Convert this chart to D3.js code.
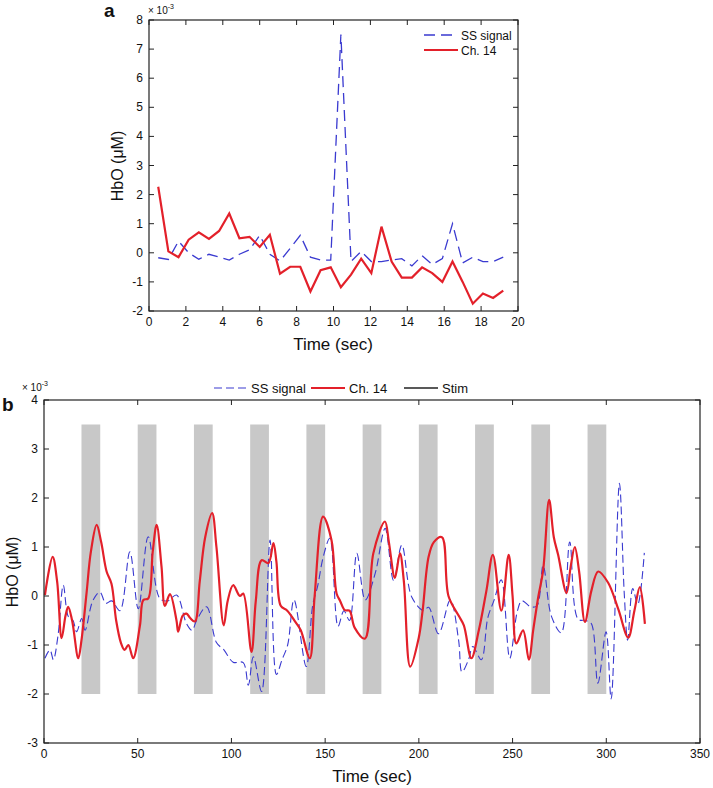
<!DOCTYPE html>
<html><head><meta charset="utf-8">
<script src="https://cdn.jsdelivr.net/npm/d3@7"></script>
<style>
body{margin:0;background:#fff;}
text{font-family:"Liberation Sans",Arial,sans-serif;fill:#111;}
</style></head>
<body><svg id="c" width="713" height="788"></svg>
<script>
// ---------- Panel a data ----------
const aTime = [0.5,1.05,1.6,2.15,2.7,3.25,3.8,4.35,4.9,5.45,6.0,6.55,7.1,7.65,8.2,8.75,9.3,9.85,10.4,10.95,11.5,12.05,12.6,13.15,13.7,14.25,14.8,15.35,15.9,16.45,17.0,17.55,18.1,18.65,19.2];
const aSS = [-0.17,-0.23,0.4,0.0,-0.22,-0.05,-0.15,-0.25,-0.05,0.1,0.6,-0.05,-0.28,0.15,0.6,-0.15,-0.25,-0.25,7.5,-0.3,0.05,-0.3,-0.3,-0.25,-0.2,-0.45,-0.1,-0.4,-0.2,1.0,-0.35,-0.15,-0.3,-0.3,-0.15];
const aCh14 = [2.27,0.05,-0.15,0.45,0.7,0.48,0.75,1.35,0.5,0.55,0.2,0.62,-0.72,-0.48,-0.48,-1.33,-0.6,-0.5,-1.18,-0.75,-0.2,-0.7,0.9,-0.3,-0.85,-0.85,-0.5,-0.7,-1.0,-0.3,-1.0,-1.75,-1.4,-1.55,-1.3];
const aXTicks = [0,2,4,6,8,10,12,14,16,18,20];
const aYTicks = [-2,-1,0,1,2,3,4,5,6,7,8];

// ---------- Panel b data ----------
const bCh14T = [0.5,4.6,7,9.4,11.5,12.9,15,18.3,20,22.7,25,28.1,30.5,33.4,36,38.5,41,43,45,47.6,51.2,53,55.6,58,60.1,62.7,64.5,67.2,70.7,71.6,74,76,78,80.5,83.1,86,89.7,92,95.9,98,100.9,104.5,106.3,110.7,113,116.1,119.7,122.4,124,126.3,129.8,134.3,137,141.8,144.4,148.9,153.4,156.1,158,160.5,163,165.8,171.2,175.7,181.9,184,187.2,189.9,192,195.4,199.9,202,205.2,208,212.3,215.8,221.2,224,228,232,236,239.5,244,247.9,250,252,255.6,258.7,261,263.7,266.3,269.5,272,274.3,278.8,281,283.2,285.5,288.6,292,295.7,301,306.4,311.7,315,317.9,320.6];
const bCh14V = [0.02,0.8,0.3,-0.86,-0.4,-0.22,-0.5,-1.27,-0.9,0.06,0.9,1.45,1.1,0.5,0.25,-0.5,-0.95,-1.1,-1.0,-1.27,-0.6,-0.08,-0.05,0.9,1.45,0.6,-0.2,0.04,-0.5,-0.73,-0.4,-0.36,-0.45,-0.52,0.3,1.2,1.69,1.0,-0.6,-0.1,0.22,0.0,0.05,-1.14,-0.1,0.73,0.67,1.08,0.7,-0.2,-0.3,-0.54,-0.7,-1.27,0.0,1.62,1.14,0.05,-0.1,-0.29,-0.3,-0.65,-0.87,0.87,1.52,1.1,0.37,0.87,0.3,-1.44,-0.86,-0.3,0.8,1.1,1.2,0.0,-0.4,-0.6,-1.27,-0.7,0.1,0.84,-0.3,0.84,0.0,-0.97,-0.7,-1.3,-0.7,-0.02,0.52,1.96,1.2,0.84,0.06,0.6,1.0,0.5,-0.53,0.1,0.5,0.27,-0.27,-0.85,-0.3,0.18,-0.57];
const bSST = [0.5,3.2,5,7.5,10.3,13,15.5,17.4,20.1,21.9,26,29.8,33,36.1,40.5,45.8,50.3,55.6,61.8,66,70.7,76,79,81.4,86.7,92,96,100.9,106.3,109,111.7,116.1,120.6,124,127,130,133.4,139.9,143.4,146,149,152.5,156.9,160,163,166.9,171.4,176.7,182,186.5,190.9,196.2,202.5,205.2,210.5,216.8,221.2,223,226.5,228.8,233.3,236.8,240,244,248.5,252.6,255,259.7,263,266.3,270.7,276,280.5,284.9,289,292,295.5,299.9,302.6,307,309.6,311.4,314.1,316.8,320.3];
const bSSV = [-1.27,-1.1,-1.3,-0.8,0.22,-0.42,-0.5,-0.73,-0.46,-0.7,-0.1,0.08,-0.15,-0.1,-0.3,0.9,-0.26,1.21,-0.05,-0.1,0.02,-0.56,-0.7,-0.5,-0.22,-0.95,-1.1,-1.35,-1.36,-1.82,-1.24,-1.95,1.14,-1.6,-1.3,-1.0,-0.08,-1.44,-0.18,0.2,0.8,1.18,-0.62,-0.3,-0.5,0.87,-0.08,0.46,1.38,0.32,1.04,-0.02,-0.3,-0.23,-0.77,-0.08,-0.9,-1.55,-1.3,-1.03,-1.3,-0.44,-0.1,0.33,-1.27,-0.3,-0.1,-0.22,-0.2,0.62,-0.41,-0.75,1.1,-0.47,-0.5,-0.56,-1.78,-0.73,-2.1,2.3,0.04,-0.9,0.15,-0.17,0.88];
const stimStart = [20,50,80,110,140,170,200,230,260,290];
const stimDur = 10;
const stimLow = -2, stimHigh = 3.5;
const bXTicks = [0,50,100,150,200,250,300,350];
const bYTicks = [-3,-2,-1,0,1,2,3,4];

const legendA = ["SS signal","Ch. 14"];
const legendB = ["SS signal","Ch. 14","Stim"];
const BLUE = "#3a3ad0", RED = "#e3202a", GRAY = "#c8c8c8";

const svg = d3.select("#c");
svg.append("rect").attr("width",713).attr("height",788).attr("fill","#fff");

function drawFrame(g, x, y, xt, yt) {
  const [x0,x1] = x.range(), [y0,y1] = y.range();
  const tl = 5;
  xt.forEach(v => {
    const px = x(v);
    g.append("line").attr("x1",px).attr("x2",px).attr("y1",y0).attr("y2",y0-tl).attr("stroke","#222");
    g.append("line").attr("x1",px).attr("x2",px).attr("y1",y1).attr("y2",y1+tl).attr("stroke","#222");
  });
  yt.forEach(v => {
    const py = y(v);
    g.append("line").attr("x1",x0).attr("x2",x0+tl).attr("y1",py).attr("y2",py).attr("stroke","#222");
    g.append("line").attr("x1",x1).attr("x2",x1-tl).attr("y1",py).attr("y2",py).attr("stroke","#222");
  });
  g.append("rect").attr("x",x0).attr("y",y1).attr("width",x1-x0).attr("height",y0-y1)
    .attr("fill","none").attr("stroke","#222").attr("stroke-width",1.2);
  xt.forEach(v => g.append("text").attr("x",x(v)).attr("y",y0+15).attr("text-anchor","middle")
    .attr("font-size",12).text(v));
  yt.forEach(v => g.append("text").attr("x",x0-6).attr("y",y(v)+4).attr("text-anchor","end")
    .attr("font-size",12).text(v));
}

// ---------- Panel a ----------
{
  const x = d3.scaleLinear().domain([0,20]).range([149,518]);
  const y = d3.scaleLinear().domain([-2,8]).range([311,20]);
  const g = svg.append("g");
  const lineA = d3.line().x(d=>x(d[0])).y(d=>y(d[1]));
  g.append("path").datum(aTime.map((t,i)=>[t,aSS[i]])).attr("d",lineA)
    .attr("fill","none").attr("stroke",BLUE).attr("stroke-width",1.3).attr("stroke-dasharray","11,6");
  g.append("path").datum(aTime.map((t,i)=>[t,aCh14[i]])).attr("d",lineA)
    .attr("fill","none").attr("stroke",RED).attr("stroke-width",2.2);
  drawFrame(g,x,y,aXTicks,aYTicks);
  g.append("text").attr("x",104).attr("y",17).attr("font-size",19).attr("font-weight","bold").text("a");
  const ex = g.append("text").attr("x",148).attr("y",14).attr("font-size",10);
  ex.append("tspan").text("× 10");
  ex.append("tspan").attr("dy",-5).attr("font-size",7).text("-3");
  g.append("text").attr("x",333).attr("y",350).attr("text-anchor","middle").attr("font-size",17).text("Time (sec)");
  g.append("text").attr("transform","translate(123,166) rotate(-90)").attr("text-anchor","middle")
    .attr("font-size",16).text("HbO (μM)");
  g.append("line").attr("x1",424).attr("x2",458).attr("y1",35).attr("y2",35)
    .attr("stroke",BLUE).attr("stroke-width",1.3).attr("stroke-dasharray","11,6");
  g.append("line").attr("x1",424).attr("x2",458).attr("y1",50).attr("y2",50)
    .attr("stroke",RED).attr("stroke-width",2.2);
  g.append("text").attr("x",461).attr("y",40).attr("font-size",12).text(legendA[0]);
  g.append("text").attr("x",461).attr("y",55).attr("font-size",12).text(legendA[1]);
}

// ---------- Panel b ----------
{
  const x = d3.scaleLinear().domain([0,350]).range([44,700]);
  const y = d3.scaleLinear().domain([-3,4]).range([743,400]);
  const g = svg.append("g");
  g.selectAll("rect.stim").data(stimStart).enter().append("rect").attr("class","stim")
    .attr("x",d=>x(d)).attr("width",d=>x(d+stimDur)-x(d))
    .attr("y",y(stimHigh)).attr("height",y(stimLow)-y(stimHigh)).attr("fill",GRAY);
  const lineB = d3.line().x(d=>x(d[0])).y(d=>y(d[1])).curve(d3.curveCatmullRom.alpha(0.5));
  g.append("path").datum(bSST.map((t,i)=>[t,bSSV[i]])).attr("d",lineB)
    .attr("fill","none").attr("stroke",BLUE).attr("stroke-width",1.1).attr("stroke-dasharray","8,4");
  g.append("path").datum(bCh14T.map((t,i)=>[t,bCh14V[i]])).attr("d",lineB)
    .attr("fill","none").attr("stroke",RED).attr("stroke-width",2.2);
  drawFrame(g,x,y,bXTicks,bYTicks);
  g.append("text").attr("x",2).attr("y",411).attr("font-size",19).attr("font-weight","bold").text("b");
  const ex = g.append("text").attr("x",22).attr("y",391).attr("font-size",10);
  ex.append("tspan").text("× 10");
  ex.append("tspan").attr("dy",-5).attr("font-size",7).text("-3");
  g.append("text").attr("x",372).attr("y",782).attr("text-anchor","middle").attr("font-size",17).text("Time (sec)");
  g.append("text").attr("transform","translate(18,572) rotate(-90)").attr("text-anchor","middle")
    .attr("font-size",16).text("HbO (μM)");
  const ly = 388;
  g.append("line").attr("x1",214).attr("x2",247).attr("y1",ly).attr("y2",ly)
    .attr("stroke",BLUE).attr("stroke-width",1.2).attr("stroke-dasharray","8,4");
  g.append("text").attr("x",251).attr("y",ly+5).attr("font-size",13).text(legendB[0]);
  g.append("line").attr("x1",311).attr("x2",345).attr("y1",ly).attr("y2",ly)
    .attr("stroke",RED).attr("stroke-width",2.2);
  g.append("text").attr("x",349).attr("y",ly+5).attr("font-size",13).text(legendB[1]);
  g.append("line").attr("x1",404).attr("x2",438).attr("y1",ly).attr("y2",ly)
    .attr("stroke","#222").attr("stroke-width",1.3);
  g.append("text").attr("x",442).attr("y",ly+5).attr("font-size",13).text(legendB[2]);
}
</script></body></html>
